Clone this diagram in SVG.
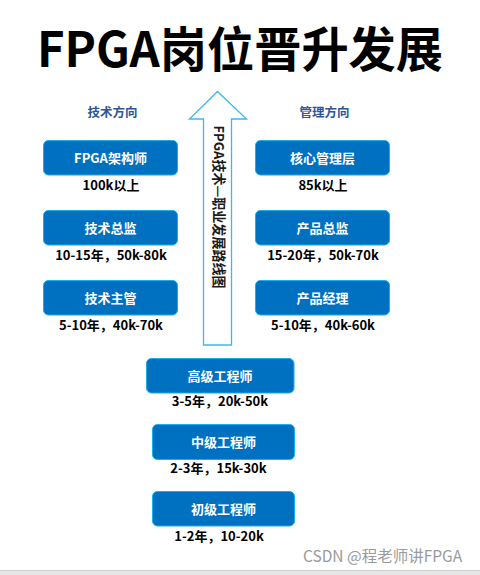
<svg xmlns="http://www.w3.org/2000/svg" width="480" height="575" viewBox="0 0 480 575">
<style>
text{font-family:"Noto Sans CJK SC","Liberation Sans",sans-serif}
.box{fill:#0070C0;stroke:#1AAEEB;stroke-width:1}
.lbl{fill:#fff;font-size:13px;font-weight:bold;text-anchor:middle}
.sub{fill:#000;font-size:13px;font-weight:bold;text-anchor:middle}
.dir{fill:#2F5597;font-size:12.5px;font-weight:bold;text-anchor:middle}
</style>
<rect x="0" y="0" width="480" height="575" fill="#fff"/>
<text x="240" y="67" font-size="48" font-weight="bold" text-anchor="middle" fill="#000" textLength="406" lengthAdjust="spacingAndGlyphs">FPGA岗位晋升发展</text>
<text class="dir" x="112.5" y="117">技术方向</text>
<text class="dir" x="324.5" y="117">管理方向</text>
<g id="arrow">
<path d="M203.5,345 L203.5,119 L189.5,119 L217.5,91.5 L246.5,119 L231.5,119 L231.5,345 Z" fill="#fff" stroke="#3DB8EE" stroke-width="1.3"/>
<text transform="translate(220,207) rotate(90)" font-size="13.5" fill="#1a1a1a" text-anchor="middle" dominant-baseline="central" font-weight="bold" textLength="163" lengthAdjust="spacingAndGlyphs">FPGA技术—职业发展路线图</text>
</g>
<g id="connectors"></g>
<g id="n1"><rect class="box" x="43.5" y="140.5" width="134" height="34.5" rx="5"/><text class="lbl" x="110.5" y="163">FPGA架构师</text><text class="sub" x="111" y="190">100k以上</text></g>
<g id="n2"><rect class="box" x="43.5" y="210.5" width="134" height="34.5" rx="5"/><text class="lbl" x="110.5" y="233">技术总监</text><text class="sub" x="111" y="260">10-15年，50k-80k</text></g>
<g id="n3"><rect class="box" x="43.5" y="280.5" width="134" height="34.5" rx="5"/><text class="lbl" x="110.5" y="303">技术主管</text><text class="sub" x="111" y="329.5">5-10年，40k-70k</text></g>
<g id="n4"><rect class="box" x="255.5" y="140.5" width="134" height="34.5" rx="5"/><text class="lbl" x="322.5" y="163">核心管理层</text><text class="sub" x="323" y="190">85k以上</text></g>
<g id="n5"><rect class="box" x="255.5" y="210.5" width="134" height="34.5" rx="5"/><text class="lbl" x="322.5" y="233">产品总监</text><text class="sub" x="323" y="260">15-20年，50k-70k</text></g>
<g id="n6"><rect class="box" x="255.5" y="280.5" width="134" height="34.5" rx="5"/><text class="lbl" x="322.5" y="303">产品经理</text><text class="sub" x="323" y="329.5">5-10年，40k-60k</text></g>
<g id="n7"><rect class="box" x="146.5" y="358.5" width="147.5" height="34.5" rx="5"/><text class="lbl" x="220" y="381">高级工程师</text><text class="sub" x="220" y="406">3-5年，20k-50k</text></g>
<g id="n8"><rect class="box" x="152.5" y="424.5" width="142" height="35" rx="5"/><text class="lbl" x="223.5" y="447">中级工程师</text><text class="sub" x="218.5" y="473">2-3年，15k-30k</text></g>
<g id="n9"><rect class="box" x="152.5" y="491.5" width="142" height="34.5" rx="5"/><text class="lbl" x="223.5" y="514">初级工程师</text><text class="sub" x="219" y="541">1-2年，10-20k</text></g>
<text x="303" y="562" font-size="15.5" fill="#9a9a9a">CSDN @程老师讲FPGA</text>
<rect x="0" y="570" width="480" height="5" fill="#E6E6E6"/>
<line x1="0" y1="570.5" x2="480" y2="570.5" stroke="#cfcfcf" stroke-width="1"/>
</svg>
